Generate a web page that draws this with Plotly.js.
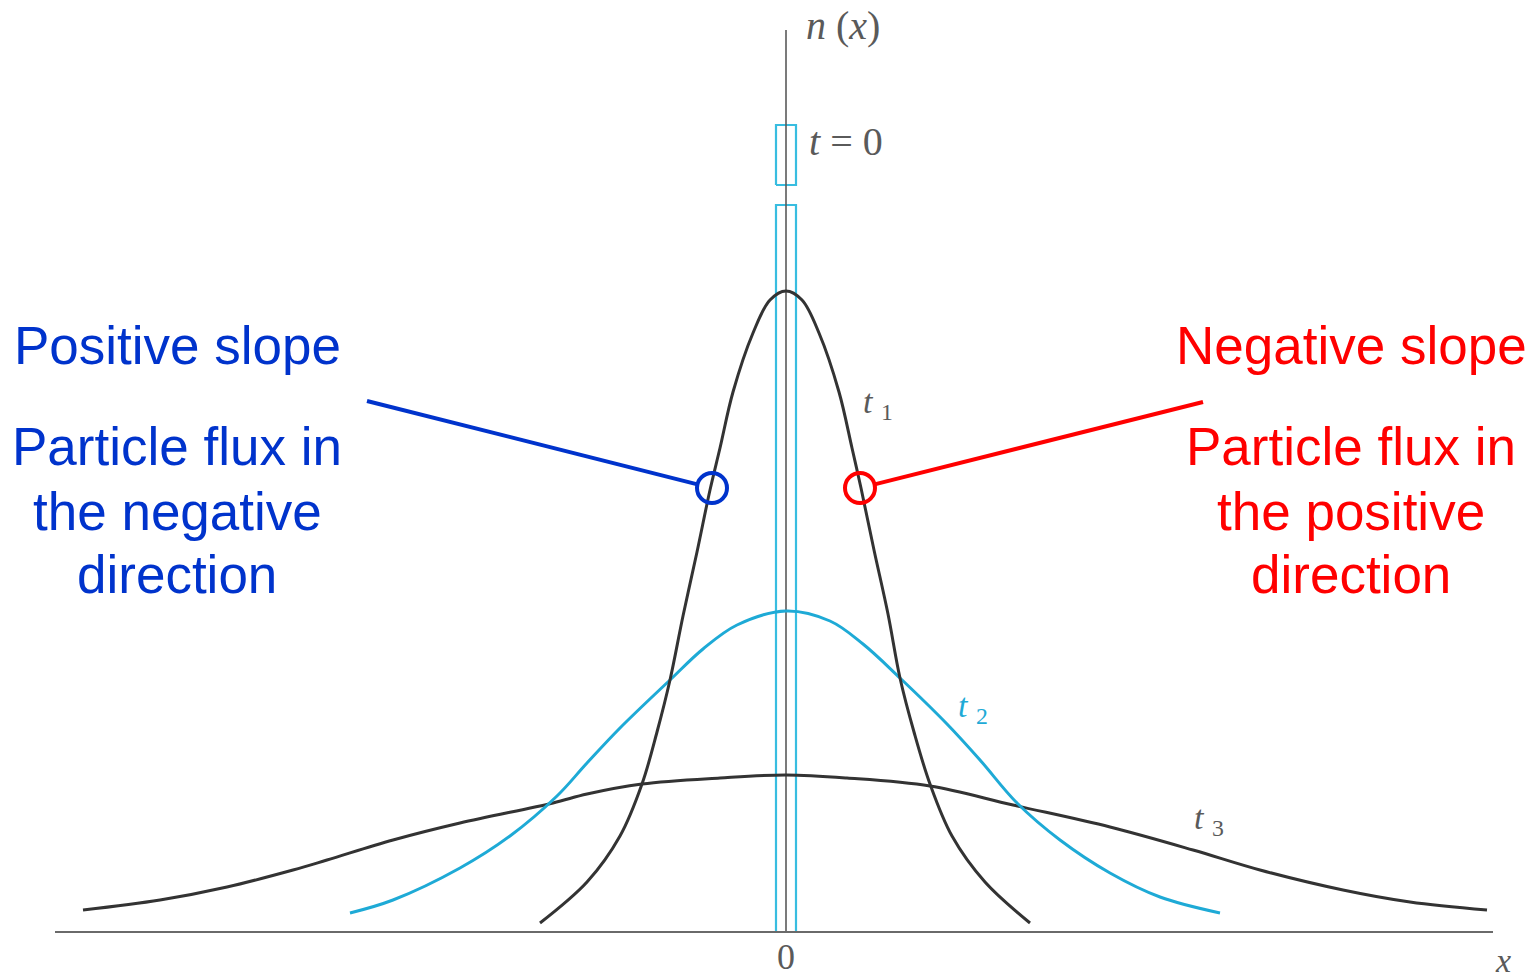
<!DOCTYPE html>
<html>
<head>
<meta charset="utf-8">
<script src="https://cdn.plot.ly/plotly-3.0.1.min.js"></script>
<style>
  html, body { margin: 0; padding: 0; background: #ffffff; }
  #chart { width: 1536px; height: 979px; }
</style>
</head>
<body>
<div id="chart"></div>
<script>
// Concentration profiles n(x) of a diffusing pulse at successive times.
// Positions and concentrations are in arbitrary units.

// t1: narrow profile
const t1X = [-24.6, -19.9, -16.6, -14.4, -12.9, -11.6, -10.3, -8.9, -7.6, -6.6, -5.3, -3.3, -1.6, 0,
             1.6, 3.3, 5.3, 6.6, 7.5, 8.8, 10.2, 11.4, 12.8, 14.4, 16.6, 19.9, 24.4];
const t1N = [0.9, 5.0, 9.6, 14.8, 20.0, 25.2, 31.6, 38.0, 44.2, 48.4, 54.0, 59.9, 63.2, 64.1,
             63.2, 59.9, 54.0, 48.4, 44.4, 38.2, 31.8, 25.4, 20.0, 14.8, 9.6, 5.0, 0.9];

// t2: intermediate profile
const t2X = [-43.6, -39.3, -32.6, -27.6, -22.9, -19.9, -16.6, -11.6, -8.3, -4.9, 0,
             4.4, 7.7, 11.4, 16.1, 19.4, 23.1, 27.4, 32.4, 37.4, 43.4];
const t2N = [1.9, 3.2, 6.4, 9.6, 13.6, 16.9, 20.4, 25.2, 28.3, 30.7, 32.1,
             31.1, 28.8, 25.4, 20.8, 17.2, 12.9, 9.2, 5.9, 3.5, 1.9];

// t3: broad profile
const t3X = [-70.3, -62.6, -55.9, -49.3, -45.9, -39.3, -32.6, -23.3, -19.9, -14.4, -6.6, 0,
             6.1, 14.4, 22.7, 32.4, 40.7, 47.4, 55.7, 62.4, 70.1];
const t3N = [2.2, 3.2, 4.5, 6.2, 7.2, 9.2, 10.9, 12.9, 13.8, 14.8, 15.4, 15.7,
             15.4, 14.6, 12.7, 10.5, 8.2, 6.2, 4.2, 3.0, 2.2];

// t = 0: the initial pulse, drawn with a break because it runs off scale
const pulseHalfWidth = 1.0;
const pulseSegments = [[0, 72.7], [74.7, 80.7]];

// Axis extents
const axisX = [-73.1, 70.7];
const axisNTop = 90.2;

// Marked points on the t1 profile (left: rising side, right: falling side)
const markX = [-7.4, 7.4];
const markN = [44.4, 44.4];
const leaderFrom = [[-41.9, 53.1], [41.7, 53.0]];

const BLUE = '#0033cc';
const RED = '#ff0000';
const CYAN = '#1eaad6';
const DARK = '#333333';
const GREY = '#5a5a5a';

const traces = [];

// pulse rectangles
pulseSegments.forEach(([lo, hi]) => {
  traces.push({
    x: [-pulseHalfWidth, -pulseHalfWidth, pulseHalfWidth, pulseHalfWidth, -pulseHalfWidth],
    y: [lo, hi, hi, lo, lo],
    mode: 'lines', line: { color: '#38bde0', width: 2.2 }, hoverinfo: 'skip'
  });
});

// vertical n axis and horizontal x axis
traces.push({ x: [0, 0], y: [0, axisNTop], mode: 'lines', line: { color: GREY, width: 1.6 }, hoverinfo: 'skip' });
traces.push({ x: axisX, y: [0, 0], mode: 'lines', line: { color: '#6a6a6a', width: 2 }, hoverinfo: 'skip' });

// profiles
const curve = (x, y, c) => ({ x, y, mode: 'lines', line: { color: c, width: 3, shape: 'spline', smoothing: 1.0 }, hoverinfo: 'skip' });
traces.push(curve(t3X, t3N, DARK));
traces.push(curve(t2X, t2N, CYAN));
traces.push(curve(t1X, t1N, DARK));

// leader lines to the marked points
[[BLUE, 0], [RED, 1]].forEach(([c, i]) => {
  const dx = markX[i] - leaderFrom[i][0];
  const dy = markN[i] - leaderFrom[i][1];
  const len = Math.sqrt(dx * dx + dy * dy);
  const r = 1.5;
  traces.push({
    x: [leaderFrom[i][0], markX[i] - dx / len * r],
    y: [leaderFrom[i][1], markN[i] - dy / len * r],
    mode: 'lines', line: { color: c, width: 4 }, hoverinfo: 'skip'
  });
});

// circle markers
traces.push({
  x: markX, y: markN, mode: 'markers',
  marker: { symbol: 'circle-open', size: 30, color: [BLUE, RED], line: { width: 4, color: [BLUE, RED] } },
  hoverinfo: 'skip'
});

const serif = 'Liberation Serif, Times New Roman, serif';
const sans = 'Liberation Sans, Arial, sans-serif';

const annotations = [
  { x: 1.8, y: 90.7, text: '<i>n</i> (<i>x</i>)', xanchor: 'left', size: 40, color: GREY, family: serif },
  { x: 2.1, y: 79.1, text: '<i>t</i> = 0', xanchor: 'left', size: 40, color: GREY, family: serif },
  { x: 7.5, y: 52.8, text: '<i>t</i> <sub>1</sub>', xanchor: 'left', size: 34, color: GREY, family: serif },
  { x: 17.0, y: 22.4, text: '<i>t</i> <sub>2</sub>', xanchor: 'left', size: 34, color: CYAN, family: serif },
  { x: 40.6, y: 11.2, text: '<i>t</i> <sub>3</sub>', xanchor: 'left', size: 34, color: GREY, family: serif },
  { x: 71.7, y: -2.8, text: '<i>x</i>', xanchor: 'center', size: 34, color: GREY, family: serif },

  { x: -60.9, y: 58.7, text: 'Positive slope', xanchor: 'center', size: 53, color: BLUE, family: sans },
  { x: -60.9, y: 48.6, text: 'Particle flux in', xanchor: 'center', size: 53, color: BLUE, family: sans },
  { x: -60.9, y: 42.1, text: 'the negative', xanchor: 'center', size: 53, color: BLUE, family: sans },
  { x: -60.9, y: 35.8, text: 'direction', xanchor: 'center', size: 53, color: BLUE, family: sans },

  { x: 56.5, y: 58.7, text: 'Negative slope', xanchor: 'center', size: 53, color: RED, family: sans },
  { x: 56.5, y: 48.6, text: 'Particle flux in', xanchor: 'center', size: 53, color: RED, family: sans },
  { x: 56.5, y: 42.1, text: 'the positive', xanchor: 'center', size: 53, color: RED, family: sans },
  { x: 56.5, y: 35.8, text: 'direction', xanchor: 'center', size: 53, color: RED, family: sans }
].map(a => ({
  x: a.x, y: a.y, xref: 'x', yref: 'y', text: a.text, showarrow: false,
  xanchor: a.xanchor, yanchor: 'middle',
  font: { family: a.family, size: a.size, color: a.color }
}));

// origin label under the axis, anchored at the bottom edge
annotations.push({
  x: 0, y: -4.68, xref: 'x', yref: 'y', text: '0', showarrow: false,
  xanchor: 'center', yanchor: 'bottom',
  font: { family: serif, size: 36, color: GREY }
});

const layout = {
  width: 1536, height: 979,
  margin: { l: 0, r: 0, t: 0, b: 0 },
  paper_bgcolor: '#ffffff', plot_bgcolor: '#ffffff',
  showlegend: false,
  xaxis: { range: [-78.6, 75.0], visible: false, fixedrange: true },
  yaxis: { range: [-4.7, 93.2], visible: false, fixedrange: true },
  annotations: annotations
};

Plotly.newPlot('chart', traces, layout, { displayModeBar: false, staticPlot: true });
</script>
</body>
</html>
